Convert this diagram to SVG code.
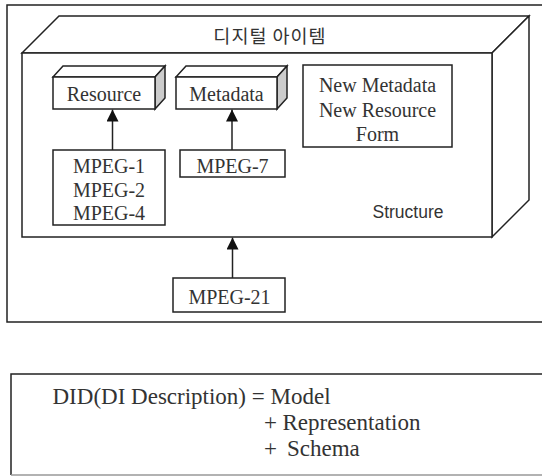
<svg xmlns="http://www.w3.org/2000/svg" width="542" height="476" viewBox="0 0 542 476">
<style>
.ln{fill:none;stroke:#222;stroke-width:1.5}
.bx{fill:#fff;stroke:#222;stroke-width:1.5}
.sd{fill:#ccc;stroke:#222;stroke-width:1.5}
.t{font-family:"Liberation Serif","Times New Roman",serif;font-size:20px;fill:#333;text-anchor:middle}
.ts{font-family:"Liberation Sans",Arial,sans-serif;font-size:17.5px;fill:#333;text-anchor:middle}
.tk{font-family:"Noto Sans CJK KR","Noto Sans",sans-serif;font-size:18.5px;fill:#333;text-anchor:middle;letter-spacing:1px}
.td{font-family:"Liberation Serif","Times New Roman",serif;font-size:23px;fill:#333}
</style>
<defs>
<marker id="ah" viewBox="0 0 12 12" refX="12" refY="6" markerWidth="12" markerHeight="12" markerUnits="userSpaceOnUse" orient="auto">
<path d="M0,0 L12,6 L0,12 Z" fill="#111"/>
</marker>
</defs>
<g id="frame">
<path class="ln" d="M560,5 H7 V322 H560"/>
</g>
<g id="digital-item">
<polygon class="bx" points="22,53 59,16 529,16 492,53"/>
<polygon class="bx" points="492,53 529,16 529,200 492,237"/>
<rect class="bx" x="22" y="53" width="470" height="184"/>
<text class="tk" x="270" y="43">디지털 아이템</text>
<text class="ts" x="408" y="218">Structure</text>
</g>
<g id="resource">
<polygon class="bx" points="53,77 63,66 165,66 155,77"/>
<polygon class="sd" points="155,77 165,66 165,98 155,109"/>
<rect class="bx" x="53" y="77" width="102" height="32"/>
<text class="t" x="104" y="101">Resource</text>
</g>
<g id="metadata">
<polygon class="bx" points="176,77 186,66 287,66 277,77"/>
<polygon class="sd" points="277,77 287,66 287,98 277,109"/>
<rect class="bx" x="176" y="77" width="101" height="32"/>
<text class="t" x="226.5" y="101">Metadata</text>
</g>
<g id="new-form">
<rect class="bx" x="303" y="65" width="149" height="82"/>
<text class="t" x="377.5" y="92">New Metadata</text>
<text class="t" x="377.5" y="116.5">New Resource</text>
<text class="t" x="377.5" y="141">Form</text>
</g>
<g id="mpeg124">
<rect class="bx" x="53" y="150" width="112" height="75"/>
<text class="t" x="109" y="172.5">MPEG-1</text>
<text class="t" x="109" y="196.5">MPEG-2</text>
<text class="t" x="109" y="220">MPEG-4</text>
</g>
<g id="mpeg7">
<rect class="bx" x="180" y="150" width="105" height="27"/>
<text class="t" x="232.5" y="172.5">MPEG-7</text>
</g>
<g id="mpeg21">
<rect class="bx" x="173" y="278" width="112" height="34"/>
<text class="t" x="229.5" y="304">MPEG-21</text>
</g>
<g id="connectors">
<line class="ln" x1="112.5" y1="150" x2="112.5" y2="109.5" marker-end="url(#ah)"/>
<line class="ln" x1="232" y1="150" x2="232" y2="109.5" marker-end="url(#ah)"/>
<line class="ln" x1="232.5" y1="278" x2="232.5" y2="237.5" marker-end="url(#ah)"/>
</g>
<g id="did">
<path d="M560,374 H11 V475" fill="none" stroke="#222" stroke-width="1.5"/>
<line x1="11" y1="475" x2="560" y2="475" stroke="#999" stroke-width="1.5"/>
<text class="td" x="52.5" y="404">DID(DI Description) = Model</text>
<text class="td" x="264" y="430">+<tspan x="282.5">Representation</tspan></text>
<text class="td" x="264" y="456">+<tspan x="287">Schema</tspan></text>
</g>
</svg>
